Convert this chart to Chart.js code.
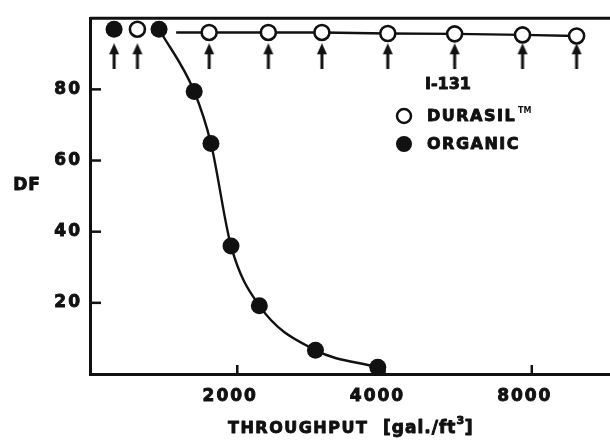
<!DOCTYPE html>
<html>
<head>
<meta charset="utf-8">
<script src="https://cdn.jsdelivr.net/npm/chart.js@4.4.1/dist/chart.umd.min.js"></script>
<style>
  html, body { margin: 0; padding: 0; background: #fff; overflow: hidden; }
  #chart { display: block; }
</style>
</head>
<body>
<canvas id="chart" width="610" height="440"></canvas>
<script>
// values (x is throughput, log axis)
var organicX = [1120, 1384, 1633, 1767, 1942, 2219, 2890, 3875]
var organicDF = [96.9, 96.9, 79.4, 64.8, 36.0, 19.2, 6.7, 1.9]
var durasilX = [1250, 1752, 2315, 2979, 4062, 5564, 7658, 9878]
var durasilDF = [96.9, 96.0, 96.0, 96.0, 95.7, 95.6, 95.3, 95.0]
// drawn line for durasil starts just right of the 2nd filled point
var durasilLineX = [1500, 1752, 2315, 2979, 4062, 5564, 7658, 9878]
var durasilLineDF = [96.0, 96.0, 96.0, 96.0, 95.7, 95.6, 95.3, 95.0]
// arrows mark the sample points near the top
var arrowX = [1120, 1250, 1752, 2315, 2979, 4062, 5564, 7658, 9878]
var arrowDF = 89.3
var xTicks = [2000, 4000, 8000]
var yTicks = [20, 40, 60, 80]

var ink = '#111'
var tickFont = { family: 'DejaVu Sans', size: 17, weight: 'bold' }

function pts(xs, ys) {
  var out = []
  for (var i = 0; i < xs.length; i++) {
    out.push({ x: xs[i], y: Array.isArray(ys) ? ys[i] : ys })
  }
  return out
}

// up arrow used as point style
var arrowImg = document.createElement('canvas')
arrowImg.width = 12
arrowImg.height = 26
var actx = arrowImg.getContext('2d')
actx.fillStyle = ink
actx.strokeStyle = ink
actx.lineWidth = 3
actx.beginPath()
actx.moveTo(6, 8)
actx.lineTo(6, 26)
actx.stroke()
actx.beginPath()
actx.moveTo(6, 0)
actx.lineTo(1, 11)
actx.lineTo(11, 11)
actx.closePath()
actx.fill()

function setSpacing(chart) {
  chart.ctx.letterSpacing = '2px'
}

// heavy lettering, like the stencil text of the scan
function boldText(ctx, txt, x, y) {
  ctx.fillText(txt, x, y)
  ctx.strokeText(txt, x, y)
}

var decor = {
  id: 'decor',
  beforeLayout: setSpacing,
  beforeDraw: function (chart) {
    setSpacing(chart)
  },
  afterDraw: function (chart) {
    var ctx = chart.ctx
    var a = chart.chartArea
    var xs = chart.scales.x
    var ys = chart.scales.y
    ctx.save()
    ctx.strokeStyle = ink
    ctx.fillStyle = ink
    ctx.lineWidth = 3

    // top frame line
    ctx.beginPath()
    ctx.moveTo(a.left, a.top)
    ctx.lineTo(a.right, a.top)
    ctx.stroke()

    // inward tick marks
    ctx.lineWidth = 2.5
    for (let v of yTicks) {
      var py = ys.getPixelForValue(v)
      ctx.beginPath()
      ctx.moveTo(a.left, py)
      ctx.lineTo(a.left + 11, py)
      ctx.stroke()
    }
    for (let v of xTicks) {
      var px = xs.getPixelForValue(v)
      ctx.beginPath()
      ctx.moveTo(px, a.bottom)
      ctx.lineTo(px, a.bottom - 9)
      ctx.stroke()
    }

    ctx.lineWidth = 0.9
    ctx.lineJoin = 'round'

    // horizontal DF label
    ctx.font = 'bold 17px "DejaVu Sans"'
    ctx.letterSpacing = '1px'
    ctx.textAlign = 'center'
    ctx.textBaseline = 'middle'
    boldText(ctx, 'DF', 27, 186)

    // x axis title
    ctx.textAlign = 'left'
    ctx.textBaseline = 'alphabetic'
    ctx.font = 'bold 16px "DejaVu Sans"'
    ctx.letterSpacing = '1.5px'
    boldText(ctx, 'THROUGHPUT', 228, 433)
    ctx.letterSpacing = '1px'
    ctx.font = 'bold 17px "DejaVu Sans"'
    boldText(ctx, '[gal./ft', 383, 433)
    var w = ctx.measureText('[gal./ft').width
    ctx.font = 'bold 11px "DejaVu Sans"'
    boldText(ctx, '3', 383 + w, 424)
    ctx.font = 'bold 18px "DejaVu Sans"'
    boldText(ctx, ']', 383 + w + 8, 433)

    // legend block
    ctx.textBaseline = 'middle'
    ctx.letterSpacing = '0px'
    ctx.font = 'bold 16px "DejaVu Sans"'
    boldText(ctx, 'I-131', 425, 85)
    ctx.letterSpacing = '1.5px'
    boldText(ctx, 'DURASIL', 427, 117)
    ctx.font = 'bold 8px "DejaVu Sans"'
    ctx.letterSpacing = '0px'
    ctx.fillText('TM', 518, 111)
    ctx.font = 'bold 16px "DejaVu Sans"'
    ctx.letterSpacing = '1.5px'
    boldText(ctx, 'ORGANIC', 427, 145)

    ctx.lineWidth = 2.5
    ctx.fillStyle = '#fff'
    ctx.beginPath()
    ctx.arc(404, 116, 7, 0, Math.PI * 2)
    ctx.fill()
    ctx.stroke()
    ctx.fillStyle = ink
    ctx.beginPath()
    ctx.arc(404, 144, 8, 0, Math.PI * 2)
    ctx.fill()
    ctx.restore()
  }
}

var ctx = document.getElementById('chart').getContext('2d')

var chart = new Chart(ctx, {
  type: 'scatter',
  data: {
    datasets: [
      {
        label: 'Organic curve',
        type: 'line',
        data: pts(organicX.slice(1), organicDF.slice(1)),
        borderColor: ink,
        borderWidth: 2.4,
        pointRadius: 0,
        cubicInterpolationMode: 'monotone',
        fill: false,
        order: 3
      },
      {
        label: 'Durasil line',
        type: 'line',
        data: pts(durasilLineX, durasilLineDF),
        borderColor: ink,
        borderWidth: 2.4,
        pointRadius: 0,
        tension: 0,
        fill: false,
        order: 3
      },
      {
        label: 'DURASIL',
        data: pts(durasilX, durasilDF),
        pointStyle: 'circle',
        pointRadius: 7.5,
        pointBorderWidth: 2.6,
        pointBackgroundColor: '#fff',
        pointBorderColor: ink,
        order: 1
      },
      {
        label: 'ORGANIC',
        data: pts(organicX, organicDF),
        pointStyle: 'circle',
        pointRadius: 8.5,
        pointBorderWidth: 0,
        pointBackgroundColor: ink,
        pointBorderColor: ink,
        order: 1
      },
      {
        label: 'arrows',
        data: pts(arrowX, arrowDF),
        pointStyle: arrowImg,
        order: 2
      }
    ]
  },
  options: {
    responsive: false,
    animation: false,
    devicePixelRatio: 1,
    layout: {
      autoPadding: false,
      padding: { left: 0, right: 0, top: 14, bottom: 0 }
    },
    plugins: {
      legend: { display: false },
      tooltip: { enabled: false }
    },
    scales: {
      x: {
        type: 'logarithmic',
        min: 1000,
        max: 11560,
        afterBuildTicks: function (scale) {
          scale.ticks = xTicks.map(v => ({ value: v }))
        },
        afterFit: function (scale) {
          scale.height = 66
          scale.paddingLeft = 0
          scale.paddingRight = 0
        },
        ticks: {
          color: ink,
          font: tickFont,
          textStrokeColor: ink,
          textStrokeWidth: 0.9,
          padding: 12,
          labelOffset: -7,
          maxRotation: 0,
          autoSkip: false,
          callback: function (value) {
            return String(value)
          }
        },
        grid: { display: false, drawTicks: false },
        border: { display: true, color: ink, width: 3 }
      },
      y: {
        min: 0,
        max: 100,
        afterBuildTicks: function (scale) {
          scale.ticks = yTicks.map(v => ({ value: v }))
        },
        afterFit: function (scale) {
          scale.width = 90
        },
        ticks: {
          color: ink,
          font: tickFont,
          textStrokeColor: ink,
          textStrokeWidth: 0.9,
          padding: 8
        },
        grid: { display: false, drawTicks: false },
        border: { display: true, color: ink, width: 3 }
      }
    }
  },
  plugins: [decor]
})
</script>
</body>
</html>
